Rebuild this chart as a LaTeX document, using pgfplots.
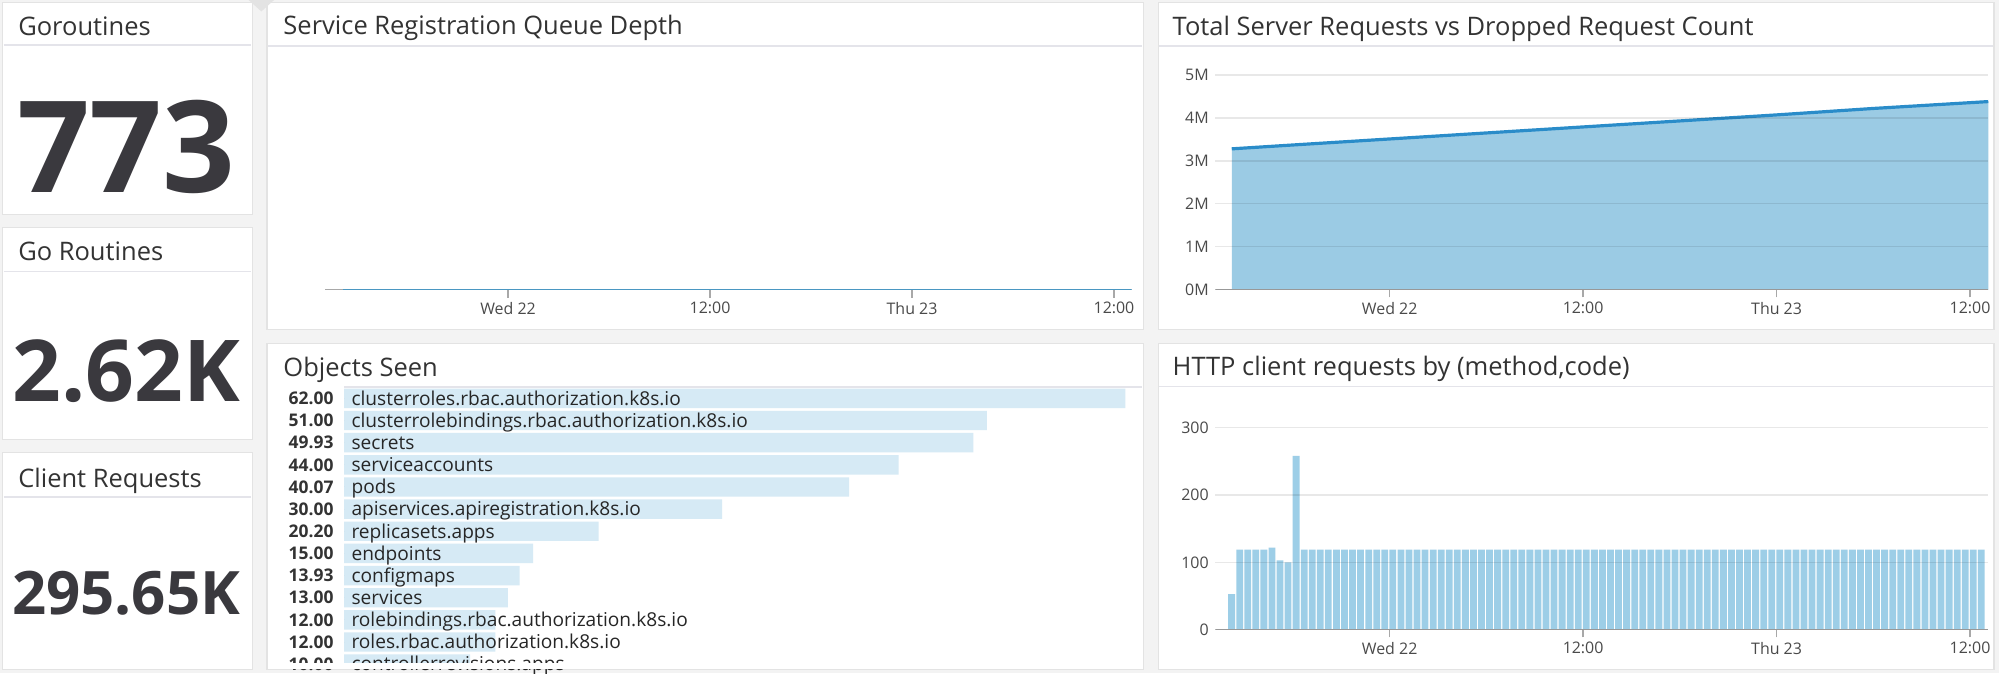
\documentclass[border=0pt]{standalone}
\usepackage{fontspec}
\setmainfont{Open Sans}
\usepackage{pgfplots}
\pgfplotsset{compat=1.18}
\usepackage{pgfplotstable}

\definecolor{gapbg}{HTML}{F3F3F3}
\definecolor{panelline}{HTML}{E3E3E3}
\definecolor{sepline}{HTML}{E4E4EA}
\definecolor{titletext}{HTML}{333333}
\definecolor{bignum}{HTML}{3A393E}
\definecolor{areablue}{HTML}{9BCBE4}
\definecolor{lineblue}{HTML}{2A8CC9}
\definecolor{httpblue}{HTML}{9DCEE7}
\definecolor{objbar}{HTML}{D6EAF5}
\definecolor{midblue}{HTML}{4A97C2}
\definecolor{axisgray}{HTML}{A8A8A8}
\definecolor{ticktext}{HTML}{4A4A4A}

% objects seen: row, value, name
\pgfplotstableread{
i v name
0 62.00 clusterroles.rbac.authorization.k8s.io
1 51.00 clusterrolebindings.rbac.authorization.k8s.io
2 49.93 secrets
3 44.00 serviceaccounts
4 40.07 pods
5 30.00 apiservices.apiregistration.k8s.io
6 20.20 replicasets.apps
7 15.00 endpoints
8 13.93 configmaps
9 13.00 services
10 12.00 rolebindings.rbac.authorization.k8s.io
11 12.00 roles.rbac.authorization.k8s.io
12 10.00 controllerrevisions.apps
}\objtab

\pgfplotsset{
  dash/.style={
    scale only axis, anchor=south west,
    axis line style={draw=none},
    tick align=outside, major tick length=3.6pt,
    xtick pos=left,
    xtick={0,12,24,36},
    xticklabels={Wed 22,12:00,Thu 23,12:00},
    xtick style={draw=axisgray, line width=0.6pt},
    ytick style={draw=none},
    tick label style={font=\fontsize{7.5}{9}\selectfont, text=ticktext},
    xticklabel style={inner sep=0pt, yshift=-2pt},
    yticklabel style={inner sep=0pt, anchor=east, xshift=0.6pt},
    /pgf/number format/assume math mode=true,
  },
}

\newcommand\ttl[1]{{\fontsize{12}{14}\selectfont\color{titletext}#1}}

\begin{document}
\begin{tikzpicture}[x=0.6pt,y=0.6pt]
\path[use as bounding box, clip] (0,0) rectangle (1568,528);
\fill[gapbg] (0,0) rectangle (1568,528);

% panels
\tikzset{panel/.style={fill=white, draw=panelline, line width=0.6pt}}
\path[panel] (2,526) rectangle (198,360);
\path[panel] (2,349.5) rectangle (198,183.5);
\path[panel] (2,173) rectangle (198,2.7);
\path[panel] (209.5,526) rectangle (897,269.7);
\path[panel] (209.5,258.7) rectangle (897,2.7);
\path[panel] (908.5,526) rectangle (1564,269.7);
\path[panel] (908.5,258.7) rectangle (1564,2.7);
\fill[panelline] (195,528) -- (215,528) -- (205,519) -- cycle;

% separators under titles
\draw[sepline, line width=0.8pt] (3,492.5) -- (197,492.5);
\draw[sepline, line width=0.8pt] (3,315) -- (197,315);
\draw[sepline, line width=0.8pt] (3,138) -- (197,138);
\draw[sepline, line width=0.8pt] (210,492) -- (896,492);
\draw[sepline, line width=0.8pt] (909,492) -- (1563,492);
\draw[sepline, line width=0.8pt] (909,224.8) -- (1563,224.8);
\draw[sepline, line width=0.8pt] (270,224.3) -- (896,224.3);

% titles
\node[anchor=base west, inner sep=0pt] at (14,500.2) {\ttl{Goroutines}};
\node[anchor=base west, inner sep=0pt] at (14,323.5) {\ttl{Go Routines}};
\node[anchor=base west, inner sep=0pt] at (14,146) {\ttl{Client Requests}};
\node[anchor=base west, inner sep=0pt] at (222,500.6) {\ttl{Service Registration Queue Depth}};
\node[anchor=base west, inner sep=0pt] at (222,233) {\ttl{Objects Seen}};
\node[anchor=base west, inner sep=0pt] at (919.5,500.1) {\ttl{Total Server Requests vs Dropped Request Count}};
\node[anchor=base west, inner sep=0pt] at (919.5,233.4) {\ttl{HTTP client requests by (method,code)}};

% query values
\node[anchor=base, inner sep=0pt, text=bignum] at (99,377) {\fontsize{60}{60}\selectfont\bfseries 773};
\node[anchor=base, inner sep=0pt, text=bignum] at (99,213) {\fontsize{40.2}{40}\selectfont\bfseries 2.62K};
\node[anchor=base, inner sep=0pt, text=bignum] at (99,46) {\fontsize{28.2}{28}\selectfont\bfseries 295.65K};

\coordinate (aA) at (255,300.6);
\coordinate (aB) at (953.4,300.7);
\coordinate (aC) at (953.4,34);
\coordinate (aD) at (269.9,224.2);

% Service Registration Queue Depth
\begin{axis}[dash, at={(aA)}, width=379.6pt, height=109.6pt,
  xmin=-10.87, xmax=37.05, ymin=0, ymax=1, ytick=\empty]
\draw[axisgray, line width=0.6pt] (rel axis cs:0,0) -- (rel axis cs:1,0);
\addplot[midblue, line width=1.3pt] coordinates {(-9.83,0) (0,0) (12,0) (24,0) (36,0) (37.05,0)};
\end{axis}

% Total Server Requests vs Dropped Request Count
\begin{axis}[dash, at={(aB)}, width=363.7pt, height=109.4pt,
  xmin=-10.80, xmax=37.13, ymin=0, ymax=5.41,
  ytick={0,1,2,3,4,5}, yticklabels={0M,1M,2M,3M,4M,5M},
  ymajorgrids, grid style={black, opacity=0.09, line width=0.6pt}, axis on top]
\addplot[fill=areablue, draw=none] coordinates {(-9.79,3.28) (-6,3.37) (0,3.51) (6,3.65) (12,3.79) (18,3.93) (24,4.07) (30,4.22) (37.13,4.38)} \closedcycle;
\addplot[lineblue, line width=1.5pt] coordinates {(-9.79,3.28) (-6,3.37) (0,3.51) (6,3.65) (12,3.79) (18,3.93) (24,4.07) (30,4.22) (37.13,4.38)};
\draw[axisgray, line width=0.6pt] (rel axis cs:0,0) -- (rel axis cs:1,0);
\end{axis}

% HTTP client requests by (method,code)
\begin{axis}[dash, at={(aC)}, width=363.7pt, height=107.4pt,
  xmin=-10.80, xmax=37.13, ymin=0, ymax=338.4,
  ytick={0,100,200,300}, yticklabels={0,100,200,300},
  ymajorgrids, grid style={black, opacity=0.09, line width=0.6pt}, axis on top]
\addplot[ybar, bar width=3.2pt, fill=httpblue, draw=none] coordinates {
(-9.8,53) (-9.3,119) (-8.8,119) (-8.3,119) (-7.8,119) (-7.3,122) (-6.8,103) (-6.3,100) (-5.8,258)
(-5.3,119) (-4.8,119) (-4.3,119) (-3.8,119) (-3.3,119) (-2.8,119) (-2.3,119) (-1.8,119) (-1.3,119) (-0.8,119) (-0.3,119)
(0.2,119) (0.7,119) (1.2,119) (1.7,119) (2.2,119) (2.7,119) (3.2,119) (3.7,119) (4.2,119) (4.7,119)
(5.2,119) (5.7,119) (6.2,119) (6.7,119) (7.2,119) (7.7,119) (8.2,119) (8.7,119) (9.2,119) (9.7,119)
(10.2,119) (10.7,119) (11.2,119) (11.7,119) (12.2,119) (12.7,119) (13.2,119) (13.7,119) (14.2,119) (14.7,119)
(15.2,119) (15.7,119) (16.2,119) (16.7,119) (17.2,119) (17.7,119) (18.2,119) (18.7,119) (19.2,119) (19.7,119)
(20.2,119) (20.7,119) (21.2,119) (21.7,119) (22.2,119) (22.7,119) (23.2,119) (23.7,119) (24.2,119) (24.7,119)
(25.2,119) (25.7,119) (26.2,119) (26.7,119) (27.2,119) (27.7,119) (28.2,119) (28.7,119) (29.2,119) (29.7,119)
(30.2,119) (30.7,119) (31.2,119) (31.7,119) (32.2,119) (32.7,119) (33.2,119) (33.7,119) (34.2,119) (34.7,119)
(35.2,119) (35.7,119) (36.2,119) (36.7,119)};
\draw[axisgray, line width=0.6pt] (rel axis cs:0,0) -- (rel axis cs:1,0);
\end{axis}

% Objects Seen
\begin{axis}[at={(aD)}, anchor=north west, scale only axis,
  width=375.1pt, height=130.3pt,
  xmin=0, xmax=63.24, ymin=-0.5, ymax=12, y dir=reverse,
  axis line style={draw=none}, xtick=\empty,
  ytick={0,...,12},
  yticklabels={62.00,51.00,49.93,44.00,40.07,30.00,20.20,15.00,13.93,13.00,12.00,12.00,10.00},
  major tick length=0pt, tick style={draw=none},
  yticklabel style={font=\fontsize{8.2}{9}\selectfont\bfseries, text=titletext,
    anchor=east, inner sep=0pt, xshift=-4.8pt}]
\addplot[xbar, bar width=9.12pt, fill=objbar, draw=none] table[x=v, y=i] {\objtab};
\addplot[only marks, mark=*, mark size=0pt, mark options={draw=none, fill=none},
  point meta=explicit symbolic, nodes near coords,
  nodes near coords align={anchor=base west},
  every node near coord/.style={anchor=base west, inner sep=0pt, xshift=3.3pt, yshift=-3.2pt,
    font=\fontsize{9}{10}\selectfont, text=black!85}]
  table[x expr=0, y=i, meta=name] {\objtab};
\end{axis}
\fill[white] (210.3,3.2) rectangle (896.2,8.0);
\end{tikzpicture}
\end{document}
